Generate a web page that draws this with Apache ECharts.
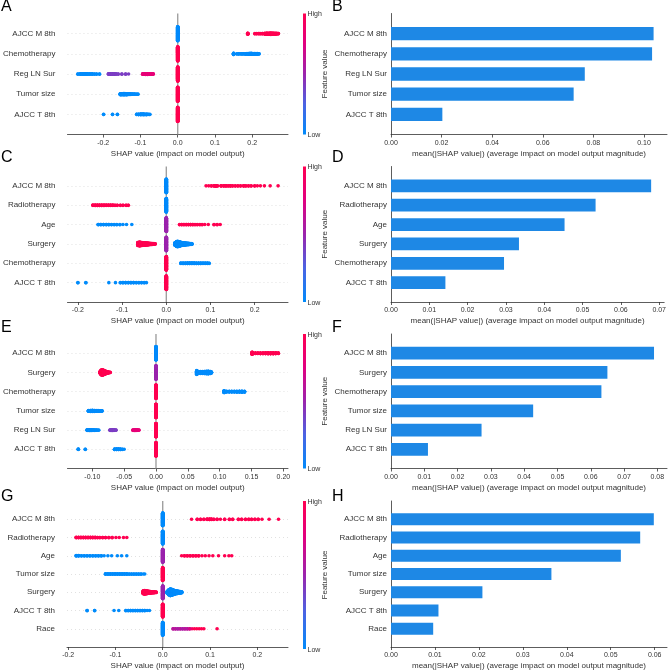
<!DOCTYPE html>
<html><head><meta charset="utf-8">
<script src="https://cdn.jsdelivr.net/npm/echarts@6/dist/echarts.min.js"></script>
<style>html,body{margin:0;padding:0;background:#fff}#c{width:669px;height:671px}</style>
</head><body><div id="c"></div><script>
// ---------------- DATA ----------------
// beeswarm groups: [SHAP value, feature value (0=low .. 1=high), number of samples]
const beeA_features = ['AJCC M 8th','Chemotherapy','Reg LN Sur','Tumor size','AJCC T 8th'];
const beeA_rows = [
  [[0,0,100],[0.188,1,8],[0.207,1,2],[0.212,1,2],[0.218,1,3],[0.223,1,2],[0.228,1,3],[0.234,1,6],[0.238,1,8],[0.242,1,8],[0.246,1,8],[0.250,1,10],[0.254,1,8],[0.258,1,8],[0.262,1,6],[0.266,1,5],[0.270,1,3]],
  [[0,1,100],[0.150,0,10],[0.159,0,2],[0.164,0,3],[0.170,0,3],[0.175,0,3],[0.181,0,4],[0.186,0,5],[0.190,0,6],[0.194,0,7],[0.198,0,7],[0.202,0,6],[0.206,0,6],[0.210,0,5],[0.214,0,5],[0.218,0,3]],
  [[0,1,100],[-0.268,0,2],[-0.262,0,3],[-0.257,0,3],[-0.252,0,4],[-0.247,0,4],[-0.242,0,4],[-0.236,0,3],[-0.230,0,3],[-0.224,0,2],[-0.218,0,2],[-0.210,0,2],[-0.186,0.4,3],[-0.181,0.4,4],[-0.176,0.4,5],[-0.171,0.4,4],[-0.166,0.4,3],[-0.160,0.4,2],[-0.150,0.4,2],[-0.140,0.4,2],[-0.132,0.4,1],[-0.094,0.8,4],[-0.090,0.8,5],[-0.086,0.8,6],[-0.081,0.8,6],[-0.076,0.8,5],[-0.071,0.8,4],[-0.066,0.8,3]],
  [[0,1,100],[-0.154,0,8],[-0.150,0,8],[-0.146,0,9],[-0.142,0,9],[-0.138,0,8],[-0.134,0,6],[-0.130,0,5],[-0.126,0,4],[-0.122,0,3],[-0.117,0,3],[-0.112,0,2],[-0.107,0,2]],
  [[0,1,100],[-0.199,0,2],[-0.175,0,2],[-0.162,0,2],[-0.110,0,3],[-0.105,0,4],[-0.100,0,5],[-0.096,0,5],[-0.092,0,5],[-0.088,0,4],[-0.084,0,4],[-0.080,0,3],[-0.075,0,2]]
];
const beeC_features = ['AJCC M 8th','Radiotherapy','Age','Surgery','Chemotherapy','AJCC T 8th'];
const beeC_rows = [
  [[0,0,100],[0.090,1,1],[0.096,1,1],[0.102,1,2],[0.108,1,3],[0.112,1,4],[0.116,1,2],[0.124,1,3],[0.130,1,3],[0.135,1,3],[0.140,1,2],[0.145,1,3],[0.150,1,2],[0.156,1,2],[0.162,1,2],[0.168,1,2],[0.175,1,3],[0.180,1,2],[0.186,1,2],[0.192,1,2],[0.200,1,2],[0.206,1,1],[0.213,1,1],[0.222,1,1],[0.235,1,1],[0.253,1,1]],
  [[0,0,100],[-0.166,1,3],[-0.161,1,4],[-0.156,1,4],[-0.151,1,4],[-0.146,1,4],[-0.141,1,4],[-0.136,1,3],[-0.131,1,3],[-0.126,1,3],[-0.121,1,3],[-0.116,1,2],[-0.111,1,2],[-0.104,1,2],[-0.098,1,2],[-0.091,1,2],[-0.086,1,2]],
  [[0,0.5,100],[-0.154,0,3],[-0.148,0,3],[-0.142,0,3],[-0.136,0,3],[-0.130,0,3],[-0.124,0,2],[-0.118,0,2],[-0.112,0,2],[-0.105,0,2],[-0.098,0,1],[-0.090,0,1],[-0.078,0,1],[0.030,1,2],[0.035,1,3],[0.040,1,3],[0.045,1,3],[0.050,1,3],[0.055,1,3],[0.060,1,3],[0.065,1,2],[0.070,1,2],[0.076,1,2],[0.081,1,2],[0.087,1,1],[0.095,1,1],[0.108,1,2],[0.115,1,2],[0.122,1,1]],
  [[0,0.5,100],[-0.064,1,24],[-0.061,1,28],[-0.058,1,26],[-0.055,1,22],[-0.052,1,20],[-0.049,1,18],[-0.046,1,16],[-0.043,1,14],[-0.040,1,12],[-0.037,1,10],[-0.034,1,8],[-0.031,1,6],[-0.028,1,5],[-0.025,1,3],
   [0.020,0,20],[0.023,0,36],[0.026,0,40],[0.029,0,34],[0.032,0,28],[0.035,0,22],[0.038,0,18],[0.041,0,16],[0.044,0,14],[0.047,0,12],[0.050,0,10],[0.053,0,8],[0.056,0,6],[0.058,0,4]],
  [[0,1,100],[0.033,0,3],[0.038,0,4],[0.043,0,4],[0.048,0,5],[0.053,0,5],[0.058,0,5],[0.063,0,5],[0.068,0,4],[0.073,0,4],[0.078,0,4],[0.083,0,3],[0.088,0,3],[0.093,0,3],[0.097,0,2]],
  [[0,1,100],[-0.200,0,2],[-0.182,0,2],[-0.130,0,1],[-0.115,0,1],[-0.104,0,2],[-0.098,0,3],[-0.092,0,3],[-0.086,0,3],[-0.080,0,3],[-0.074,0,3],[-0.068,0,2],[-0.062,0,2],[-0.056,0,2],[-0.050,0,2],[-0.045,0,1]]
];
const beeE_features = ['AJCC M 8th','Surgery','Chemotherapy','Tumor size','Reg LN Sur','AJCC T 8th'];
const beeE_rows = [
  [[0,0,100],[0.151,1,16],[0.156,1,5],[0.160,1,5],[0.164,1,6],[0.168,1,6],[0.172,1,7],[0.176,1,8],[0.180,1,8],[0.184,1,8],[0.188,1,7],[0.192,1,5]],
  [[0,0.5,100],[-0.088,1,10],[-0.086,1,36],[-0.084,1,40],[-0.082,1,32],[-0.080,1,24],[-0.078,1,16],[-0.076,1,10],[-0.074,1,6],[-0.072,1,3],
   [0.064,0,28],[0.067,0,14],[0.070,0,14],[0.073,0,14],[0.076,0,16],[0.079,0,18],[0.082,0,20],[0.085,0,16],[0.087,0,8]],
  [[0,1,100],[0.107,0,14],[0.111,0,5],[0.115,0,5],[0.119,0,5],[0.123,0,5],[0.127,0,6],[0.131,0,7],[0.135,0,8],[0.139,0,6]],
  [[0,1,100],[-0.106,0,6],[-0.103,0,8],[-0.100,0,9],[-0.097,0,8],[-0.094,0,6],[-0.091,0,5],[-0.088,0,4],[-0.085,0,4]],
  [[0,1,100],[-0.108,0,5],[-0.105,0,6],[-0.102,0,6],[-0.099,0,5],[-0.096,0,4],[-0.093,0,3],[-0.090,0,2],[-0.072,0.4,4],[-0.069,0.4,6],[-0.066,0.4,5],[-0.063,0.4,3],[-0.036,0.8,4],[-0.033,0.8,6],[-0.030,0.8,5],[-0.027,0.8,3]],
  [[0,1,100],[-0.122,0,3],[-0.111,0,2],[-0.065,0,4],[-0.062,0,5],[-0.059,0,5],[-0.056,0,4],[-0.053,0,2],[-0.050,0,1]]
];
const beeG_features = ['AJCC M 8th','Radiotherapy','Age','Tumor size','Surgery','AJCC T 8th','Race'];
const beeG_rows = [
  [[0,0,100],[0.061,1,1],[0.073,1,2],[0.080,1,2],[0.087,1,2],[0.094,1,3],[0.099,1,4],[0.103,1,3],[0.108,1,2],[0.115,1,2],[0.122,1,1],[0.131,1,2],[0.141,1,2],[0.148,1,2],[0.160,1,2],[0.167,1,2],[0.175,1,2],[0.182,1,2],[0.188,1,2],[0.195,1,2],[0.202,1,2],[0.210,1,1],[0.225,1,1],[0.245,1,1]],
  [[0,0,100],[-0.183,1,3],[-0.178,1,3],[-0.173,1,3],[-0.168,1,3],[-0.163,1,3],[-0.158,1,3],[-0.153,1,3],[-0.148,1,3],[-0.143,1,3],[-0.138,1,2],[-0.133,1,2],[-0.127,1,2],[-0.121,1,2],[-0.114,1,2],[-0.107,1,2],[-0.099,1,1],[-0.092,1,1],[-0.083,1,1],[-0.076,1,1]],
  [[0,0.5,100],[-0.183,0,3],[-0.178,0,3],[-0.172,0,2],[-0.166,0,2],[-0.160,0,2],[-0.154,0,2],[-0.148,0,2],[-0.142,0,2],[-0.136,0,2],[-0.130,0,2],[-0.124,0,1],[-0.116,0,1],[-0.108,0,1],[-0.096,0,1],[-0.087,0,1],[-0.076,0,1],
   [0.040,1,1],[0.046,1,2],[0.052,1,2],[0.058,1,2],[0.064,1,2],[0.070,1,2],[0.076,1,2],[0.083,1,1],[0.090,1,1],[0.098,1,1],[0.106,1,1],[0.118,1,1],[0.131,1,1],[0.140,1,1],[0.146,1,1]],
  [[0,1,100],[-0.121,0,3],[-0.116,0,3],[-0.111,0,3],[-0.106,0,3],[-0.101,0,3],[-0.096,0,3],[-0.091,0,3],[-0.086,0,3],[-0.081,0,3],[-0.076,0,3],[-0.071,0,2],[-0.066,0,2],[-0.061,0,2],[-0.056,0,2],[-0.051,0,2],[-0.046,0,2],[-0.041,0,1],[-0.038,0,1]],
  [[0,0.5,100],[-0.041,1,24],[-0.038,1,28],[-0.035,1,24],[-0.032,1,20],[-0.029,1,16],[-0.026,1,12],[-0.023,1,10],[-0.020,1,8],[-0.017,1,6],[-0.014,1,4],
   [0.010,0,20],[0.013,0,40],[0.016,0,52],[0.019,0,46],[0.022,0,38],[0.025,0,30],[0.028,0,24],[0.031,0,20],[0.034,0,16],[0.037,0,12],[0.040,0,8]],
  [[0,1,100],[-0.160,0,2],[-0.144,0,2],[-0.103,0,1],[-0.093,0,1],[-0.078,0,2],[-0.073,0,2],[-0.068,0,2],[-0.063,0,2],[-0.058,0,2],[-0.053,0,2],[-0.048,0,2],[-0.043,0,2],[-0.038,0,2],[-0.033,0,1],[-0.028,0,1]],
  [[0,0,100],[0.022,0.6,2],[0.027,0.6,2],[0.032,0.55,2],[0.037,0.6,2],[0.042,0.55,2],[0.047,0.6,2],[0.052,0.6,2],[0.057,0.7,2],[0.062,0.9,1],[0.067,1,1],[0.072,1,1],[0.077,1,1],[0.082,1,1],[0.087,1,1],[0.115,1,1]]
];
const barB_features = ['AJCC M 8th','Chemotherapy','Reg LN Sur','Tumor size','AJCC T 8th'];
const barB_values = [0.1038,0.1032,0.0766,0.0722,0.0203];
const barD_features = ['AJCC M 8th','Radiotherapy','Age','Surgery','Chemotherapy','AJCC T 8th'];
const barD_values = [0.0679,0.0534,0.0453,0.0334,0.0295,0.0142];
const barF_features = ['AJCC M 8th','Surgery','Chemotherapy','Tumor size','Reg LN Sur','AJCC T 8th'];
const barF_values = [0.0790,0.0650,0.0632,0.0427,0.0272,0.0111];
const barH_features = ['AJCC M 8th','Radiotherapy','Age','Tumor size','Surgery','AJCC T 8th','Race'];
const barH_values = [0.0598,0.0567,0.0523,0.0365,0.0208,0.0108,0.0096];
const ticksA = [-0.2,-0.1,0,0.1,0.2];
const ticksC = [-0.2,-0.1,0,0.1,0.2];
const ticksE = [-0.10,-0.05,0,0.05,0.10,0.15,0.20];
const ticksG = [-0.2,-0.1,0,0.1,0.2];
const ticksB = [0,0.02,0.04,0.06,0.08,0.10];
const ticksD = [0,0.01,0.02,0.03,0.04,0.05,0.06,0.07];
const ticksF = [0,0.01,0.02,0.03,0.04,0.05,0.06,0.07,0.08];
const ticksH = [0,0.01,0.02,0.03,0.04,0.05,0.06];
const panelLetters = ['A','B','C','D','E','F','G','H'];
const beeXLabel = 'SHAP value (impact on model output)';
const barXLabel = 'mean(|SHAP value|) (average impact on model output magnitude)';

// ---------------- LAYOUT / STYLE ----------------
const FONT = 'Liberation Sans';
const TXT = '#333333';
const rowTop = [13.5, 166.5, 334, 501];
const rowH = [121, 135.5, 134.5, 148];
const beeLeft = 67, beeW = 221, barLeft = 391, barW = 276;
const cmapStops = [[0,[0,139,251]],[0.25,[75,99,227]],[0.5,[155,36,173]],[0.75,[225,0,128]],[1,[255,0,81]]];
function cmap(v){
  for (let i=1;i<cmapStops.length;i++){
    if (v <= cmapStops[i][0]) {
      const a = cmapStops[i-1], b = cmapStops[i];
      const t = (v - a[0])/(b[0]-a[0]);
      const c = a[1].map((x,k)=>Math.round(x + (b[1][k]-x)*t));
      return 'rgb('+c.join(',')+')';
    }
  }
  return 'rgb(255,0,81)';
}
// shap-style beeswarm stacking of the samples of one row
function swarm(groups, row){
  const pts = [];
  groups.forEach(g => { for (let k=0;k<g[2];k++) pts.push({x:g[0], v:g[1]}); });
  let mn = Infinity, mx = -Infinity;
  pts.forEach(p => { if (p.x<mn) mn=p.x; if (p.x>mx) mx=p.x; });
  const nb = 100;
  pts.forEach(p => p.q = Math.round(nb*(p.x-mn)/(mx-mn+1e-8)));
  const order = pts.map((p,i)=>i).sort((a,b)=> (pts[a].q - pts[b].q) || (a-b));
  const ys = new Array(pts.length).fill(0);
  let layer = 0, last = -1;
  order.forEach(i => {
    if (pts[i].q !== last) layer = 0;
    ys[i] = Math.ceil(layer/2) * ((layer%2)*2-1);
    layer++; last = pts[i].q;
  });
  let m = 1; ys.forEach(y => { if (y+1>m) m = y+1; });
  return pts.map((p,i) => [p.x, row + ys[i]*0.9*0.4/m, p.v]);
}
const bees = [
  {feat: beeA_features, rows: beeA_rows, ticks: ticksA, dec: 1, range: [-0.296, 0.296]},
  {feat: beeC_features, rows: beeC_rows, ticks: ticksC, dec: 1, range: [-0.2236, 0.2754]},
  {feat: beeE_features, rows: beeE_rows, ticks: ticksE, dec: 2, range: [-0.139, 0.2073]},
  {feat: beeG_features, rows: beeG_rows, ticks: ticksG, dec: 1, range: [-0.2025, 0.265]}
];
const bars = [
  {feat: barB_features, vals: barB_values, ticks: ticksB, dec: 2, max: 0.1091},
  {feat: barD_features, vals: barD_values, ticks: ticksD, dec: 2, max: 0.0713},
  {feat: barF_features, vals: barF_values, ticks: ticksF, dec: 2, max: 0.0829},
  {feat: barH_features, vals: barH_values, ticks: ticksH, dec: 2, max: 0.0628}
];

const grid = [], xAxis = [], yAxis = [], series = [], graphic = [];
const axisLineStyle = {color: '#333333', width: 0.8};
for (let i=0;i<4;i++){
  const b = bees[i], br = bars[i];
  const N = b.feat.length, NB = br.feat.length;
  grid.push({left: beeLeft, top: rowTop[i], width: beeW, height: rowH[i]});
  grid.push({left: barLeft, top: rowTop[i], width: barW, height: rowH[i]});
  const gi = 2*i, gj = 2*i+1;
  xAxis.push({
    gridIndex: gi, type: 'value', min: b.range[0], max: b.range[1],
    axisLine: {show: true, onZero: false, lineStyle: axisLineStyle},
    axisTick: {show: true, length: 3, customValues: b.ticks, lineStyle: axisLineStyle},
    axisLabel: {customValues: b.ticks, formatter: v => Number(v).toFixed(b.dec), fontSize: 7, color: TXT, margin: 5, fontFamily: FONT},
    splitLine: {show: false},
    name: beeXLabel, nameLocation: 'middle', nameGap: 15,
    nameTextStyle: {fontSize: 8, color: TXT, fontFamily: FONT}
  });
  yAxis.push({
    gridIndex: gi, type: 'value', min: -1, max: N, interval: 1, inverse: true,
    axisLine: {show: false}, axisTick: {show: false},
    axisLabel: {formatter: v => (b.feat[v] !== undefined ? b.feat[v] : ''), fontSize: 8, color: TXT, margin: 12, fontFamily: FONT},
    splitLine: {show: true, showMinLine: false, showMaxLine: false, lineStyle: {color: '#cccccc', width: 0.6, type: [1, 3]}}
  });
  xAxis.push({
    gridIndex: gj, type: 'value', min: 0, max: br.max,
    axisLine: {show: true, onZero: false, lineStyle: axisLineStyle},
    axisTick: {show: true, length: 3, customValues: br.ticks, lineStyle: axisLineStyle},
    axisLabel: {customValues: br.ticks, formatter: v => Number(v).toFixed(br.dec), fontSize: 7, color: TXT, margin: 5, fontFamily: FONT},
    splitLine: {show: false},
    name: barXLabel, nameLocation: 'middle', nameGap: 15,
    nameTextStyle: {fontSize: 8, color: TXT, fontFamily: FONT}
  });
  yAxis.push({
    gridIndex: gj, type: 'category', data: [''].concat(br.feat, ['']), inverse: true, boundaryGap: false,
    axisLine: {show: true, onZero: false, lineStyle: axisLineStyle}, axisTick: {show: false},
    axisLabel: {interval: 0, fontSize: 8, color: TXT, margin: 4, fontFamily: FONT},
    splitLine: {show: false}
  });
  // zero reference line
  series.push({type: 'line', xAxisIndex: gi, yAxisIndex: gi, data: [[0,-1],[0,N]], symbol: 'none', silent: true, z: 1,
    lineStyle: {color: '#999999', width: 1.3}});
  let pts = [];
  b.rows.forEach((g, r) => { pts = pts.concat(swarm(g, r)); });
  series.push({type: 'scatter', xAxisIndex: gi, yAxisIndex: gi, data: pts, symbolSize: 3.6, z: 2, silent: true,
    itemStyle: {color: p => cmap(p.value[2]), opacity: 1}});
  series.push({type: 'bar', xAxisIndex: gj, yAxisIndex: gj, data: ['-'].concat(br.vals, ['-']), barWidth: '66%', silent: true,
    itemStyle: {color: '#1E88E5'}});
  // colour bar
  const top = rowTop[i], h = rowH[i];
  graphic.push({type: 'rect', shape: {x: 303, y: top, width: 3, height: h}, silent: true,
    style: {fill: new echarts.graphic.LinearGradient(0, 1, 0, 0, cmapStops.map(s => ({offset: s[0], color: 'rgb(' + s[1].join(',') + ')'})))}});
  graphic.push({type: 'text', x: 307.5, y: top + 1, silent: true, style: {text: 'High', font: '7px ' + FONT, fill: TXT, align: 'left', verticalAlign: 'middle'}});
  graphic.push({type: 'text', x: 307.5, y: top + h + 1, silent: true, style: {text: 'Low', font: '7px ' + FONT, fill: TXT, align: 'left', verticalAlign: 'middle'}});
  graphic.push({type: 'text', x: 325, y: top + h/2, rotation: Math.PI/2, silent: true, style: {text: 'Feature value', font: '8px ' + FONT, fill: TXT, align: 'center', verticalAlign: 'middle'}});
}
const letterY = [7, 157.5, 327.5, 496.5];
for (let i=0;i<4;i++){
  graphic.push({type: 'text', x: 1, y: letterY[i], silent: true, style: {text: panelLetters[2*i], font: '16px ' + FONT, fill: '#000', align: 'left', verticalAlign: 'middle'}});
  graphic.push({type: 'text', x: 332, y: letterY[i], silent: true, style: {text: panelLetters[2*i+1], font: '16px ' + FONT, fill: '#000', align: 'left', verticalAlign: 'middle'}});
}

const chart = echarts.init(document.getElementById('c'));
chart.setOption({animation: false, backgroundColor: '#fff', grid, xAxis, yAxis, series, graphic});
</script></body></html>
